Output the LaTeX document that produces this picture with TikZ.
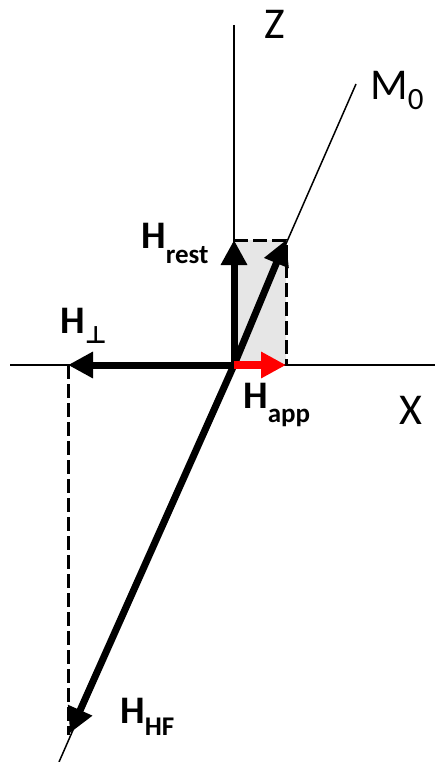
\documentclass[tikz,border=0pt]{standalone}
\usepackage{fontspec}
\setmainfont{Carlito}
\newfontfamily\symfont{DejaVu Sans}
\usetikzlibrary{arrows.meta}
\definecolor{lightfill}{HTML}{E6E6E6}
\newcommand{\hsub}[2]{\raisebox{-#1}{\fontsize{27}{27}\selectfont #2}}
\begin{document}
\begin{tikzpicture}[x=1pt,y=-1pt,
  axis/.style={line width=1.5pt},
  vec/.style={line width=7pt,-{Triangle[length=25pt,width=25pt]}},
  dashline/.style={line width=3pt,dash pattern=on 14pt off 5pt},
  lbl/.style={inner sep=0pt,font=\fontsize{44}{44}\selectfont},
  hl/.style={inner sep=0pt,anchor=base west,font=\fontsize{39}{39}\selectfont\bfseries}]
\useasboundingbox (0,0) rectangle (435,762);
% coordinates
\coordinate (O) at (234,365);
\coordinate (ztop) at (234,25);
\coordinate (xl) at (10,365);
\coordinate (xr) at (435,365);
\coordinate (mtop) at (356,84);
\coordinate (mbot) at (59,762);
\coordinate (rt) at (234,240);
\coordinate (rc) at (286,240);
\coordinate (rb) at (286,365);
\coordinate (pe) at (68,365);
\coordinate (de) at (68,735);
\coordinate (hf) at (70,733);
% shaded rectangle
\fill[lightfill] (O) rectangle (rc);
% axes
\draw[axis] (ztop) -- (O);
\draw[axis] (xl) -- (xr);
\draw[axis] (mbot) -- (mtop);
% dashed lines
\draw[dashline] (rt) -- (rc) -- (rb);
\draw[dashline] (pe) -- (de);
% vectors
\draw[vec] (O) -- (rt);
\draw[vec] (O) -- (rc);
\draw[vec] (O) -- (pe);
\draw[vec] (O) -- (hf);
\draw[vec,red,line width=8pt] (O) -- (rb);
% labels
\node[lbl] (zl) at (275,24) {Z};
\node[lbl] (xlbl) at (411,410) {X};
\node[lbl,anchor=base west] (ml) at (370,100) {M\raisebox{-10pt}{\fontsize{31}{31}\selectfont 0}};
\node[hl] (hrest) at (141,248) {H\hsub{15pt}{rest}};
\node[hl] (hperp) at (60,333) {H\raisebox{-10pt}{\fontsize{24}{24}\selectfont\symfont\bfseries ⊥}};
\node[hl] (happ) at (243,408) {H\hsub{14pt}{app}};
\node[hl] (hhf) at (120,723) {H\hsub{12pt}{HF}};
\end{tikzpicture}
\end{document}
